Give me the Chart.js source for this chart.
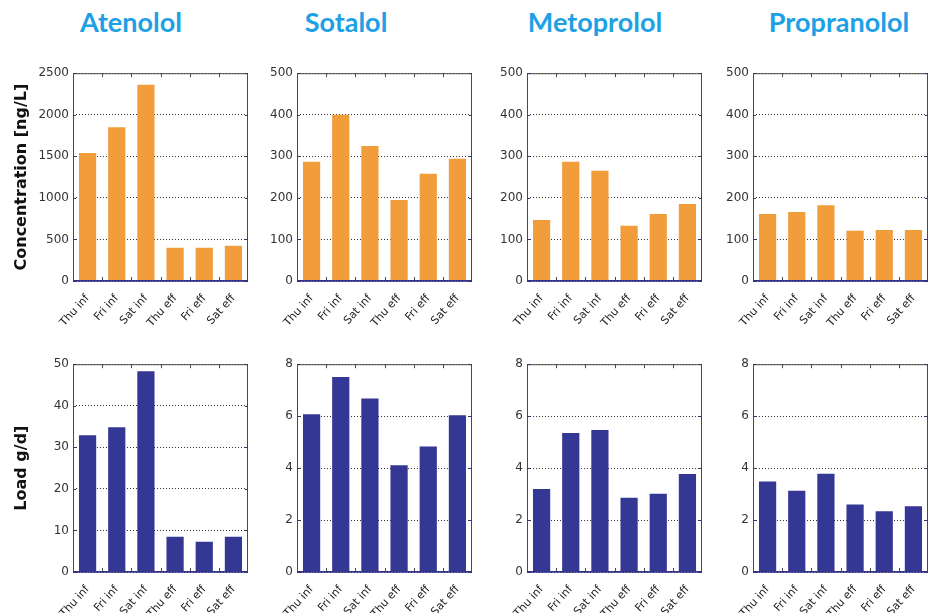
<!DOCTYPE html>
<html>
<head>
<meta charset="utf-8">
<script src="https://cdn.jsdelivr.net/npm/chart.js@4.4.1/dist/chart.umd.min.js"></script>
<style>
  body { margin: 0; background: #fff; width: 933px; height: 613px; overflow: hidden; position: relative; }
  .title { position: absolute; top: 5px; font: bold 27px "Lato", "DejaVu Sans", sans-serif; color: #1da1e4; transform: translateX(-50%); white-space: nowrap; }
  .panel { position: absolute; }
</style>
</head>
<body>
<div class="title" style="left:131px">Atenolol</div>
<div class="title" style="left:346px">Sotalol</div>
<div class="title" style="left:595px">Metoprolol</div>
<div class="title" style="left:839px">Propranolol</div>

<script>
var categories = ['Thu inf', 'Fri inf', 'Sat inf', 'Thu eff', 'Fri eff', 'Sat eff'];
var compounds = ['Atenolol', 'Sotalol', 'Metoprolol', 'Propranolol'];

// concentration [ng/L]
var atenololConc = [1540, 1850, 2360, 400, 400, 425];
var sotalolConc = [287, 400, 325, 195, 258, 294];
var metoprololConc = [147, 287, 265, 133, 161, 185];
var propranololConc = [161, 166, 182, 121, 123, 123];

// load [g/d]
var atenololLoad = [32.9, 34.8, 48.3, 8.5, 7.3, 8.5];
var sotalolLoad = [6.07, 7.51, 6.68, 4.11, 4.83, 6.03];
var metoprololLoad = [3.2, 5.35, 5.47, 2.86, 3.01, 3.77];
var propranololLoad = [3.48, 3.13, 3.78, 2.6, 2.34, 2.53];

var concMax = [2500, 500, 500, 500];
var concStep = [500, 100, 100, 100];
var loadMax = [50, 8, 8, 8];
var loadStep = [10, 2, 2, 2];

var plotLefts = [73, 297, 527, 753];
var plotTops = [70, 361];
var plotW = 175;
var plotH = 211;
var xAxisH = 44;
var padTop = 8;

var framePlugin = {
  id: 'frame',
  afterDatasetsDraw: function(chart) {
    var ctx = chart.ctx;
    var a = chart.chartArea;
    var x = chart.scales.x;
    var y = chart.scales.y;
    ctx.save();
    ctx.strokeStyle = '#4a4a4a';
    ctx.lineWidth = 1;
    ctx.strokeRect(a.left + 0.5, a.top + 0.5, a.right - a.left - 1, a.bottom - a.top - 1);

    ctx.beginPath();
    for (var i = 0; i < categories.length - 1; i++) {
      var bx = Math.round((x.getPixelForValue(i) + x.getPixelForValue(i + 1)) / 2) + 0.5;
      ctx.moveTo(bx, a.top);
      ctx.lineTo(bx, a.top + 4);
      ctx.moveTo(bx, a.bottom);
      ctx.lineTo(bx, a.bottom - 4);
    }
    ctx.stroke();

    ctx.strokeStyle = '#33338f';
    ctx.beginPath();
    y.ticks.forEach(function(t) {
      var py = Math.round(y.getPixelForValue(t.value)) + 0.5;
      ctx.moveTo(a.right, py);
      ctx.lineTo(a.right - 3, py);
      ctx.moveTo(a.left, py);
      ctx.lineTo(a.left + 3, py);
    });
    ctx.stroke();

    ctx.strokeStyle = '#2e2e96';
    ctx.lineWidth = 1.5;
    ctx.beginPath();
    ctx.moveTo(a.left, a.bottom);
    ctx.lineTo(a.right, a.bottom);
    ctx.stroke();
    ctx.restore();
  }
};

function makePanel(row, col, values, color, max, step, yTitle)
{
  var yw = col === 0 ? 73 : 45;
  var w = yw + plotW + 6;
  var h = padTop + plotH + xAxisH;

  var div = document.createElement('div');
  div.className = 'panel';
  div.style.left = (plotLefts[col] - yw) + 'px';
  div.style.top = (plotTops[row] - padTop) + 'px';
  var canvas = document.createElement('canvas');
  canvas.width = w;
  canvas.height = h;
  div.appendChild(canvas);
  document.body.appendChild(div);

  new Chart(canvas, {
    type: 'bar',
    data: {
      labels: categories,
      datasets: [{
        data: values,
        backgroundColor: color,
        borderWidth: 0,
        barPercentage: 0.59,
        categoryPercentage: 1
      }]
    },
    options: {
      responsive: false,
      animation: false,
      devicePixelRatio: 1,
      layout: { padding: { top: padTop, right: 6, left: 0, bottom: 0 } },
      plugins: { legend: { display: false }, tooltip: { enabled: false } },
      scales: {
        x: {
          grid: { display: false },
          border: { display: false },
          ticks: {
            autoSkip: false,
            minRotation: 48,
            maxRotation: 48,
            padding: 3,
            color: '#222',
            font: { family: 'DejaVu Sans', size: 11 }
          },
          afterFit: function(scale) { scale.height = xAxisH; }
        },
        y: {
          min: 0,
          max: max,
          grid: { color: '#333', lineWidth: 1, drawTicks: false },
          border: { display: false, dash: [1, 2] },
          ticks: {
            stepSize: step,
            padding: 4,
            color: '#333',
            format: { useGrouping: false },
            font: { family: 'DejaVu Sans', size: 12 }
          },
          title: {
            display: !!yTitle,
            text: yTitle || '',
            color: '#111',
            padding: { top: 12, bottom: 0 },
            font: { family: 'DejaVu Sans', size: 16, weight: 'bold' }
          },
          afterFit: function(scale) { scale.width = yw; }
        }
      }
    },
    plugins: [framePlugin]
  });
}

var concSeries = [atenololConc, sotalolConc, metoprololConc, propranololConc];
var loadSeries = [atenololLoad, sotalolLoad, metoprololLoad, propranololLoad];

for (var c = 0; c < compounds.length; c++) {
  makePanel(0, c, concSeries[c], '#f29d3c', concMax[c], concStep[c], c === 0 ? 'Concentration [ng/L]' : null);
  makePanel(1, c, loadSeries[c], '#343793', loadMax[c], loadStep[c], c === 0 ? 'Load g/d]' : null);
}
</script>
</body>
</html>
